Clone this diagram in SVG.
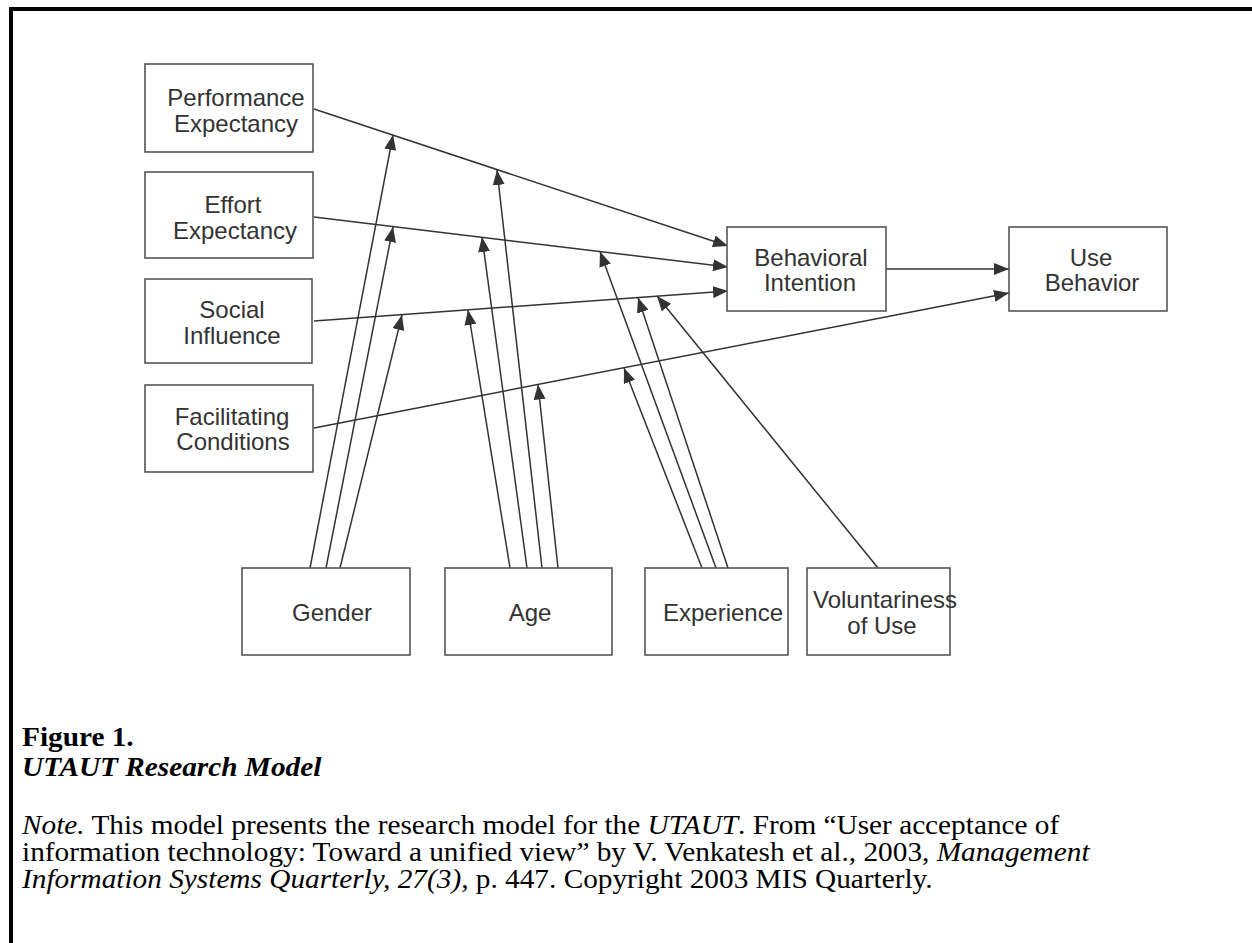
<svg xmlns="http://www.w3.org/2000/svg" width="1252" height="943" viewBox="0 0 1252 943">
<style>
.box{fill:#fff;stroke:#555;stroke-width:1.6}
.lbl{font-family:"Liberation Sans",Arial,sans-serif;font-size:24px;fill:#333;text-anchor:middle}
.con{stroke:#333;stroke-width:1.5;fill:none;marker-end:url(#ah)}
.cap{font-family:"Liberation Serif","Times New Roman",serif;font-size:27px;fill:#000}
</style>
<defs>
<marker id="ah" markerUnits="userSpaceOnUse" markerWidth="15" markerHeight="12" refX="15" refY="6" orient="auto">
<path d="M0,0 L15,6 L0,12 z" fill="#333"/>
</marker>
</defs>
<rect width="1252" height="943" fill="#fff"/>
<path d="M11,943 V9 H1252" fill="none" stroke="#000" stroke-width="4"/>

<g id="connectors">
<line class="con" x1="314" y1="109" x2="728" y2="246"/>
<line class="con" x1="314" y1="217" x2="728" y2="267"/>
<line class="con" x1="314" y1="321" x2="728" y2="291"/>
<line class="con" x1="314" y1="428" x2="1009" y2="293"/>
<line class="con" x1="886" y1="269" x2="1009" y2="269"/>
<line class="con" x1="310" y1="568" x2="393" y2="135"/>
<line class="con" x1="326" y1="568" x2="393" y2="227"/>
<line class="con" x1="340" y1="568" x2="402" y2="315"/>
<line class="con" x1="510" y1="568" x2="468" y2="310"/>
<line class="con" x1="527" y1="568" x2="482" y2="237"/>
<line class="con" x1="542" y1="568" x2="497" y2="170"/>
<line class="con" x1="558" y1="568" x2="538" y2="384.5"/>
<line class="con" x1="702" y1="568" x2="624" y2="368"/>
<line class="con" x1="716" y1="568" x2="600" y2="251.5"/>
<line class="con" x1="728" y1="568" x2="638" y2="297.5"/>
<line class="con" x1="878" y1="568" x2="657" y2="296"/>
</g>

<g id="pe"><rect class="box" x="145" y="64" width="168" height="88"/><text class="lbl" x="236" y="106">Performance</text><text class="lbl" x="236" y="132">Expectancy</text></g>
<g id="ee"><rect class="box" x="145" y="172" width="168" height="86"/><text class="lbl" x="233" y="213">Effort</text><text class="lbl" x="235" y="239">Expectancy</text></g>
<g id="si"><rect class="box" x="145" y="279" width="167" height="84"/><text class="lbl" x="232" y="318">Social</text><text class="lbl" x="232" y="344">Influence</text></g>
<g id="fc"><rect class="box" x="145" y="385" width="168" height="87"/><text class="lbl" x="232" y="425">Facilitating</text><text class="lbl" x="233" y="450">Conditions</text></g>
<g id="bi"><rect class="box" x="727" y="227" width="159" height="84"/><text class="lbl" x="811" y="266">Behavioral</text><text class="lbl" x="810" y="291">Intention</text></g>
<g id="ub"><rect class="box" x="1009" y="227" width="158" height="84"/><text class="lbl" x="1091" y="266">Use</text><text class="lbl" x="1092" y="291">Behavior</text></g>
<g id="gender"><rect class="box" x="242" y="568" width="168" height="87"/><text class="lbl" x="332" y="621">Gender</text></g>
<g id="age"><rect class="box" x="445" y="568" width="167" height="87"/><text class="lbl" x="530" y="621">Age</text></g>
<g id="experience"><rect class="box" x="645" y="568" width="143" height="87"/><text class="lbl" x="723" y="621">Experience</text></g>
<g id="voluntariness"><rect class="box" x="807" y="568" width="143" height="87"/><text class="lbl" x="885" y="608">Voluntariness</text><text class="lbl" x="882" y="634">of Use</text></g>

<g id="caption" transform="translate(22,0) scale(1.085,1)">
<text class="cap" x="0" y="746" font-weight="bold">Figure 1.</text>
<text class="cap" x="0" y="776" font-weight="bold" font-style="italic">UTAUT Research Model</text>
<text class="cap" x="0" y="834"><tspan font-style="italic">Note.</tspan> This model presents the research model for the <tspan font-style="italic">UTAUT</tspan>. From “User acceptance of</text>
<text class="cap" x="0" y="861">information technology: Toward a unified view” by V. Venkatesh et al., 2003, <tspan font-style="italic">Management</tspan></text>
<text class="cap" x="0" y="888"><tspan font-style="italic">Information Systems Quarterly, 27(3)</tspan>, p. 447. Copyright 2003 MIS Quarterly.</text>
</g>
</svg>
